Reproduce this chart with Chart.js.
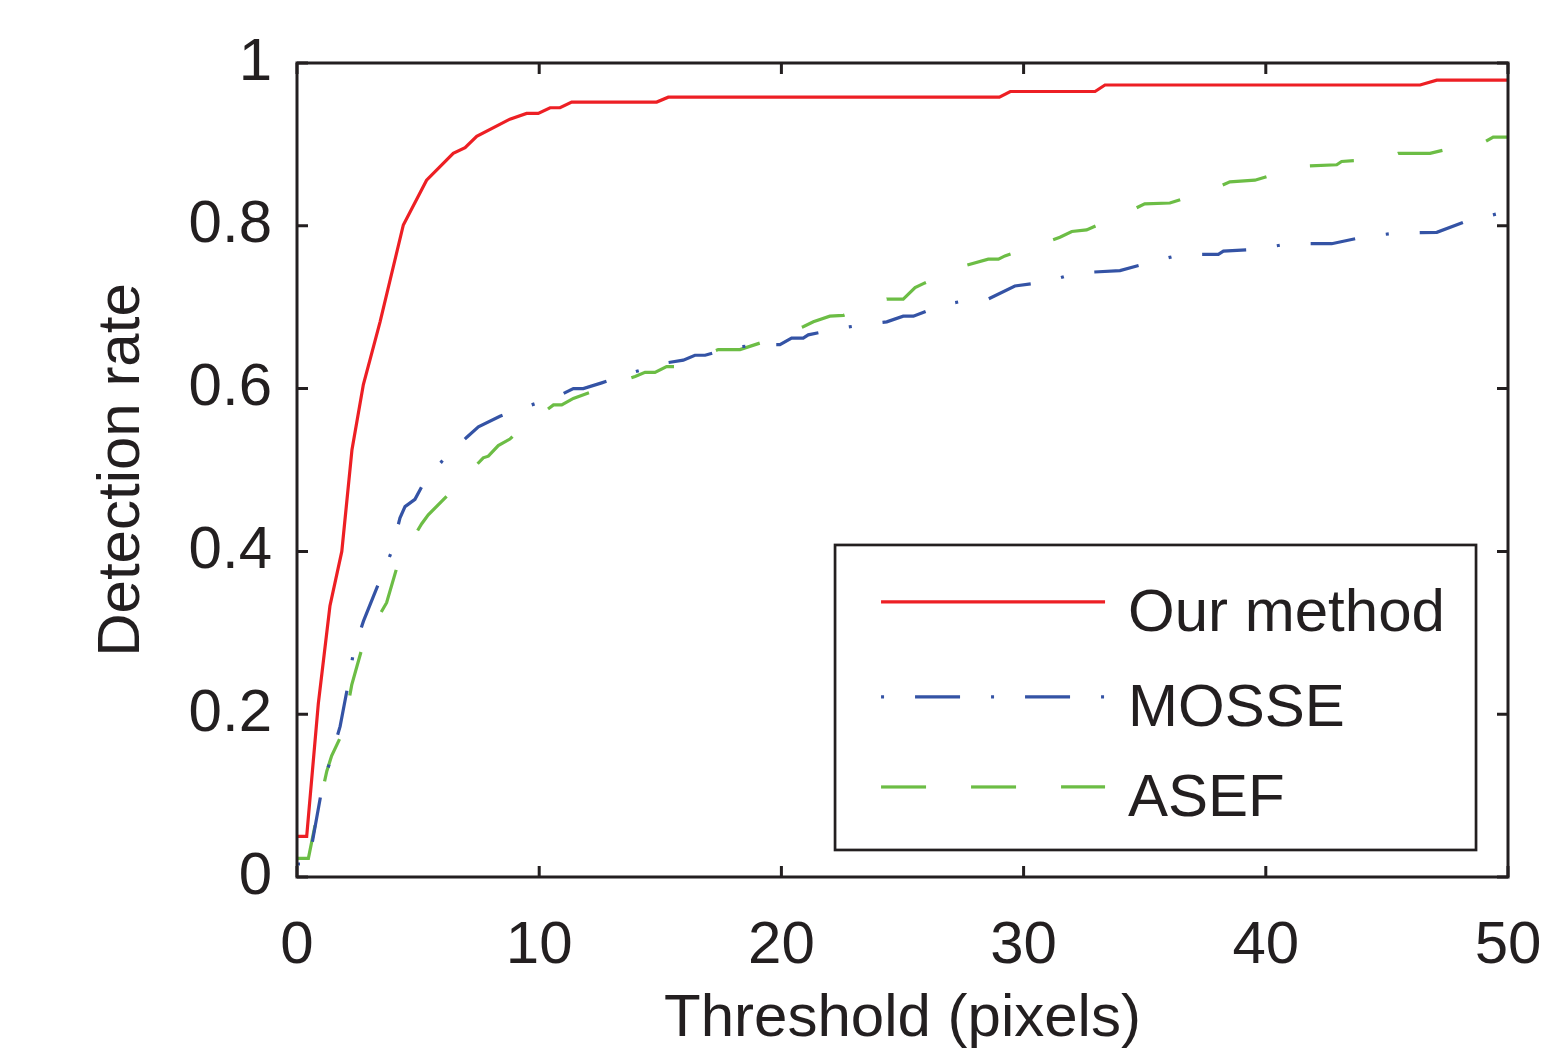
<!DOCTYPE html>
<html>
<head>
<meta charset="utf-8">
<script src="https://cdn.jsdelivr.net/npm/chart.js@4.4.0/dist/chart.umd.min.js"></script>
<style>
  html, body { margin: 0; padding: 0; background: #fff; }
  #wrap { width: 1564px; height: 1052px; }
</style>
</head>
<body>
<div id="wrap"><canvas id="myChart" width="1564" height="1052"></canvas></div>
<script>
// ---- data ----
let xTicks = [0, 10, 20, 30, 40, 50];
let yTicks = [0, 0.2, 0.4, 0.6, 0.8, 1];
let seriesNames = ['Our method', 'MOSSE', 'ASEF'];

let ourX = [0, 0.40, 0.88, 1.36, 1.85, 2.27, 2.74, 3.01, 3.43, 4.39, 5.35, 6.45, 6.94, 7.42, 8.79, 9.48, 9.96, 10.45, 10.86, 11.34, 14.85, 15.33, 29.0, 29.45, 32.95, 33.36, 46.37, 47.06, 50];
let ourY = [0.050, 0.050, 0.213, 0.333, 0.400, 0.525, 0.605, 0.635, 0.682, 0.801, 0.856, 0.889, 0.896, 0.910, 0.931, 0.938, 0.938, 0.945, 0.945, 0.952, 0.952, 0.958, 0.958, 0.965, 0.965, 0.973, 0.973, 0.979, 0.979];

let mosseX = [0, 0.47, 1.02, 1.78, 2.12, 2.33, 2.74, 3.43, 3.91, 4.25, 4.46, 4.87, 5.21, 6.02, 7.0, 7.49, 8.38, 9.69, 10.93, 11.41, 11.82, 12.58, 13.89, 15.12, 15.95, 16.43, 16.85, 18.08, 19.39, 19.94, 20.42, 20.9, 21.11, 22.39, 23.73, 24.35, 25.03, 25.45, 26.66, 27.99, 28.54, 29.64, 30.92, 32.19, 33.98, 35.22, 36.53, 38.04, 38.25, 39.59, 40.93, 42.72, 44.0, 45.33, 47.06, 48.3, 49.6, 50];
let mosseY = [0.016, 0.016, 0.107, 0.185, 0.238, 0.276, 0.314, 0.365, 0.400, 0.441, 0.455, 0.464, 0.483, 0.512, 0.540, 0.553, 0.566, 0.580, 0.593, 0.600, 0.600, 0.607, 0.620, 0.631, 0.635, 0.641, 0.641, 0.651, 0.654, 0.654, 0.662, 0.662, 0.666, 0.674, 0.680, 0.682, 0.689, 0.689, 0.703, 0.710, 0.710, 0.726, 0.731, 0.742, 0.745, 0.755, 0.765, 0.765, 0.769, 0.771, 0.778, 0.778, 0.786, 0.791, 0.792, 0.806, 0.815, 0.821];

let asefX = [0, 0.47, 0.81, 1.23, 1.43, 1.91, 2.26, 2.74, 3.70, 4.18, 5.15, 5.42, 6.39, 7.69, 7.9, 8.31, 8.79, 9.07, 10.59, 10.93, 11.41, 12.17, 13.96, 14.37, 14.78, 15.26, 15.61, 17.39, 18.29, 19.12, 20.9, 21.32, 22.0, 22.56, 24.35, 25.03, 25.52, 25.86, 27.58, 28.54, 28.96, 29.23, 30.95, 31.5, 31.99, 32.6, 34.39, 35.0, 36.04, 37.9, 38.52, 39.55, 41.41, 42.93, 43.13, 44.99, 45.47, 46.78, 48.57, 48.98, 49.39, 50];
let asefY = [0.023, 0.023, 0.073, 0.130, 0.149, 0.179, 0.236, 0.287, 0.337, 0.386, 0.434, 0.445, 0.474, 0.515, 0.517, 0.530, 0.538, 0.546, 0.580, 0.580, 0.588, 0.596, 0.615, 0.620, 0.620, 0.627, 0.627, 0.648, 0.648, 0.656, 0.676, 0.682, 0.689, 0.690, 0.710, 0.710, 0.724, 0.729, 0.751, 0.759, 0.759, 0.763, 0.780, 0.786, 0.793, 0.795, 0.818, 0.827, 0.828, 0.846, 0.854, 0.856, 0.873, 0.875, 0.879, 0.883, 0.889, 0.889, 0.902, 0.902, 0.909, 0.909];

const INK = '#231f20';
const FONT = '"Liberation Sans", Arial, Helvetica, sans-serif';
const FSIZE = 60;

function toPoints(xs, ys) {
    let pts = [];
    for (let i = 0; i < xs.length; i++) {
        pts.push({ x: xs[i], y: ys[i] });
    }
    return pts;
}

let data = {
    datasets: [
        {
            label: seriesNames[0],
            data: toPoints(ourX, ourY),
            borderColor: '#ed1f24',
            borderWidth: 3.2,
            borderDash: [],
        }, {
            label: seriesNames[1],
            data: toPoints(mosseX, mosseY),
            borderColor: '#3453a5',
            borderWidth: 3.2,
            borderDash: [3, 31, 45, 31],
        }, {
            label: seriesNames[2],
            data: toPoints(asefX, asefY),
            borderColor: '#6cbd45',
            borderWidth: 3.2,
            borderDash: [45, 45],
        }]
};

// box, inward ticks on all four sides, and the boxed legend
const matlabFrame = {
    id: 'matlabFrame',
    afterDatasetsDraw(chart) {
        let ctx = chart.ctx;
        let ca = chart.chartArea;
        let xs = chart.scales.x;
        let ys = chart.scales.y;
        let tick = 11;
        ctx.save();
        ctx.strokeStyle = INK;
        ctx.lineWidth = 3;
        ctx.setLineDash([]);
        ctx.beginPath();
        xTicks.forEach(v => {
            let px = xs.getPixelForValue(v);
            ctx.moveTo(px, ca.bottom); ctx.lineTo(px, ca.bottom - tick);
            ctx.moveTo(px, ca.top); ctx.lineTo(px, ca.top + tick);
        });
        yTicks.forEach(v => {
            let py = ys.getPixelForValue(v);
            ctx.moveTo(ca.left, py); ctx.lineTo(ca.left + tick, py);
            ctx.moveTo(ca.right, py); ctx.lineTo(ca.right - tick, py);
        });
        ctx.stroke();
        ctx.strokeRect(ca.left, ca.top, ca.right - ca.left, ca.bottom - ca.top);

        // legend
        let w = ca.right - ca.left;
        let h = ca.bottom - ca.top;
        let bx = ca.left + 0.4443 * w;
        let by = ca.top + 0.5921 * h;
        let bw = 0.5293 * w;
        let bh = 0.3747 * h;
        ctx.fillStyle = '#fff';
        ctx.fillRect(bx, by, bw, bh);
        ctx.lineWidth = 2.7;
        ctx.strokeRect(bx, by, bw, bh);
        let rowY = [57, 152, 242];
        ctx.font = FSIZE + 'px ' + FONT;
        ctx.textAlign = 'left';
        ctx.textBaseline = 'alphabetic';
        chart.data.datasets.forEach((ds, i) => {
            let ly = by + rowY[i];
            ctx.strokeStyle = ds.borderColor;
            ctx.lineWidth = 3.2;
            ctx.setLineDash(ds.borderDash);
            ctx.beginPath();
            ctx.moveTo(bx + 46, ly);
            ctx.lineTo(bx + 270, ly);
            ctx.stroke();
            ctx.setLineDash([]);
            ctx.fillStyle = INK;
            ctx.fillText(ds.label, bx + 293, ly + 29);
        });
        ctx.restore();
    }
};

const config = {
    type: 'line',
    data: data,
    options: {
        responsive: false,
        animation: false,
        devicePixelRatio: 1,
        layout: { padding: { top: 63, right: 56, left: 0, bottom: 0 } },
        elements: {
            line: { tension: 0, fill: false },
            point: { radius: 0 }
        },
        plugins: {
            legend: { display: false },
            tooltip: { enabled: false }
        },
        scales: {
            x: {
                type: 'linear',
                min: 0,
                max: 50,
                afterFit: (scale) => {
                    scale.height = 175;
                    scale.paddingLeft = 0;
                    scale.paddingRight = 0;
                },
                afterBuildTicks: (scale) => { scale.ticks = xTicks.map(v => ({ value: v })); },
                grid: { display: false, drawTicks: false },
                border: { display: false },
                ticks: {
                    color: INK,
                    padding: 33,
                    maxRotation: 0,
                    font: { family: FONT, size: FSIZE }
                },
                title: {
                    display: true,
                    text: 'Threshold (pixels)',
                    color: INK,
                    font: { family: FONT, size: FSIZE, lineHeight: 1 },
                    padding: { top: 0, bottom: 3 }
                }
            },
            y: {
                type: 'linear',
                min: 0,
                max: 1,
                afterFit: (scale) => {
                    scale.width = 297;
                    scale.paddingTop = 0;
                    scale.paddingBottom = 0;
                },
                afterBuildTicks: (scale) => { scale.ticks = yTicks.map(v => ({ value: v })); },
                grid: { display: false, drawTicks: false },
                border: { display: false },
                ticks: {
                    color: INK,
                    padding: 25,
                    font: { family: FONT, size: FSIZE },
                    callback: (v) => String(Math.round(v * 10) / 10)
                },
                title: {
                    display: true,
                    text: 'Detection rate',
                    color: INK,
                    font: { family: FONT, size: FSIZE, lineHeight: 1.2 },
                    padding: { top: 86, bottom: 0 }
                }
            }
        }
    },
    plugins: [matlabFrame]
};

let myChart;

function init() {
    myChart = new Chart(
        document.getElementById('myChart'),
        config
    );
}

init();
</script>
</body>
</html>
